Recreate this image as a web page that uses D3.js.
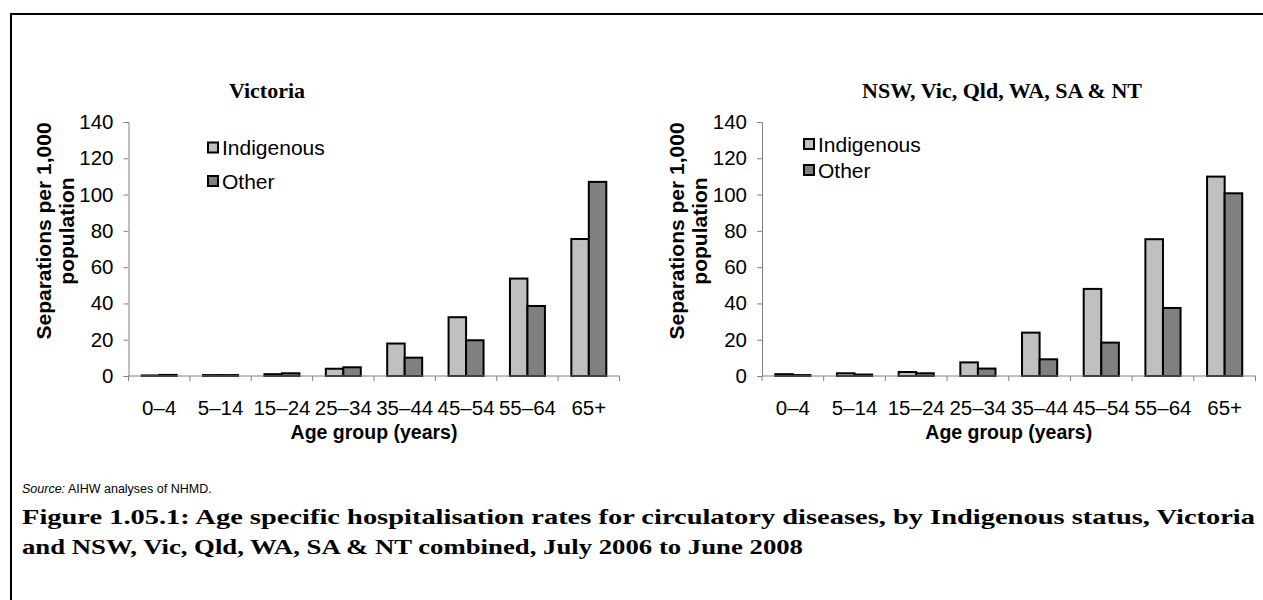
<!DOCTYPE html>
<html>
<head>
<meta charset="utf-8">
<script src="https://cdn.jsdelivr.net/npm/d3@7"></script>
<style>
body { margin: 0; background: #fff; }
svg { display: block; }
</style>
</head>
<body>
<div id="chart"></div>
<script>
// age groups on the x axis
var ageGroups = ["0–4", "5–14", "15–24", "25–34", "35–44", "45–54", "55–64", "65+"];
var seriesNames = ["Indigenous", "Other"];
var yTicks = [0, 20, 40, 60, 80, 100, 120, 140];

// Victoria
var vicIndigenous = [0.3, 0.5, 1.0, 4.0, 17.9, 32.4, 53.7, 75.5];
var vicOther      = [0.6, 0.5, 1.5, 4.8, 10.1, 19.7, 38.6, 107.0];

// NSW, Vic, Qld, WA, SA & NT
var allIndigenous = [1.0, 1.5, 2.2, 7.5, 23.9, 48.0, 75.4, 109.9];
var allOther      = [0.5, 0.8, 1.5, 4.1, 9.2, 18.4, 37.5, 100.7];

var colors = {"Indigenous": "#c0c0c0", "Other": "#808080"};

var width = 1263, height = 600;
var sans = "Arial, 'Liberation Sans', sans-serif";

var svg = d3.select("#chart").append("svg")
	.attr("width", width)
	.attr("height", height);

// frame (only left and top edges are in the picture)
svg.append("path")
	.attr("d", "M11,600 V14 H1263")
	.attr("fill", "none")
	.attr("stroke", "#000")
	.attr("stroke-width", 2);

var panels = [
	{title: "Victoria", titleX: 267, x0: 128.5, x1: 619.5, ind: vicIndigenous, oth: vicOther,
	 legendX: 207, legendY: [147.5, 181]},
	{title: "NSW, Vic, Qld, WA, SA & NT", titleX: 1002, x0: 762, x1: 1255.5, ind: allIndigenous, oth: allOther,
	 legendX: 803, legendY: [144, 170]}
];

var yTop = 122, yBottom = 376;

function drawPanel(p) {
	var g = svg.append("g");

	var x = d3.scaleBand()
		.domain(ageGroups)
		.range([p.x0, p.x1])
		.paddingInner(0.43)
		.paddingOuter(0.215);

	var xs = d3.scaleBand()
		.domain(seriesNames)
		.range([0, x.bandwidth()]);

	var y = d3.scaleLinear()
		.domain([0, 140])
		.range([yBottom, yTop]);

	g.append("text")
		.attr("x", p.titleX)
		.attr("y", 98)
		.attr("text-anchor", "middle")
		.attr("font-family", "'Liberation Serif', serif")
		.attr("font-weight", "bold")
		.attr("font-size", 22)
		.text(p.title);

	// bars
	var rows = ageGroups.map(function(a, i) {
		return {age: a, values: [{k: "Indigenous", v: p.ind[i]}, {k: "Other", v: p.oth[i]}]};
	});

	var grp = g.selectAll(".grp")
		.data(rows)
		.enter()
		.append("g")
		.attr("transform", function(d) { return "translate(" + x(d.age) + ",0)"; });

	grp.selectAll("rect")
		.data(function(d) { return d.values; })
		.enter()
		.append("rect")
		.attr("x", function(d) { return xs(d.k); })
		.attr("y", function(d) { return y(d.v); })
		.attr("width", xs.bandwidth())
		.attr("height", function(d) { return yBottom - y(d.v); })
		.attr("fill", function(d) { return colors[d.k]; })
		.attr("stroke", "#000")
		.attr("stroke-width", 2);

	// y axis
	var yAxis = g.append("g")
		.attr("transform", "translate(" + p.x0 + ",0)")
		.call(d3.axisLeft(y).tickValues(yTicks).tickSize(5).tickSizeOuter(5).tickPadding(10));
	yAxis.select(".domain").attr("stroke", "#808080");
	yAxis.selectAll(".tick line").attr("stroke", "#808080");
	yAxis.selectAll("text")
		.attr("font-family", sans)
		.attr("font-size", 20.5)
		.attr("fill", "#000");

	// x axis: ticks sit on the category boundaries
	var xAxis = g.append("g")
		.attr("transform", "translate(0," + yBottom + ")");
	xAxis.append("line")
		.attr("x1", p.x0).attr("x2", p.x1)
		.attr("stroke", "#808080");
	var step = (p.x1 - p.x0) / ageGroups.length;
	xAxis.selectAll(".xt")
		.data(d3.range(ageGroups.length + 1))
		.enter()
		.append("line")
		.attr("x1", function(i) { return p.x0 + i * step; })
		.attr("x2", function(i) { return p.x0 + i * step; })
		.attr("y1", 0).attr("y2", 5)
		.attr("stroke", "#808080");
	xAxis.selectAll(".xl")
		.data(ageGroups)
		.enter()
		.append("text")
		.attr("x", function(d) { return x(d) + x.bandwidth() / 2; })
		.attr("y", 39)
		.attr("text-anchor", "middle")
		.attr("font-family", sans)
		.attr("font-size", 20.5)
		.text(function(d) { return d; });

	g.append("text")
		.attr("x", (p.x0 + p.x1) / 2)
		.attr("y", 439)
		.attr("text-anchor", "middle")
		.attr("font-family", sans)
		.attr("font-weight", "bold")
		.attr("font-size", 19.5)
		.text("Age group (years)");

	// y axis title, two lines
	var yt = g.append("text")
		.attr("transform", "translate(" + (p.x0 - 78) + ",231) rotate(-90)")
		.attr("text-anchor", "middle")
		.attr("font-family", sans)
		.attr("font-weight", "bold")
		.attr("font-size", 21);
	yt.append("tspan").attr("x", 0).attr("dy", 0).text("Separations per 1,000");
	yt.append("tspan").attr("x", 0).attr("dy", 23).text("population");

	// legend
	var lg = g.selectAll(".lg")
		.data(seriesNames)
		.enter()
		.append("g")
		.attr("transform", function(d, i) { return "translate(" + p.legendX + "," + p.legendY[i] + ")"; });
	lg.append("rect")
		.attr("x", 1).attr("y", -5)
		.attr("width", 10).attr("height", 10)
		.attr("fill", function(d) { return colors[d]; })
		.attr("stroke", "#000")
		.attr("stroke-width", 2);
	lg.append("text")
		.attr("x", 15)
		.attr("y", 7.5)
		.attr("font-family", sans)
		.attr("font-size", 21)
		.text(function(d) { return d; });
}

panels.forEach(drawPanel);

// source note
var src = svg.append("text")
	.attr("x", 22)
	.attr("y", 493)
	.attr("font-family", sans)
	.attr("font-size", 12.5);
src.append("tspan").attr("font-style", "italic").text("Source:");
src.append("tspan").text(" AIHW analyses of NHMD.");

// figure caption
var capLines = [
	"Figure 1.05.1: Age specific hospitalisation rates for circulatory diseases, by Indigenous status, Victoria",
	"and NSW, Vic, Qld, WA, SA & NT combined, July 2006 to June 2008"
];
var capLen = [1233, 781];
svg.selectAll(".cap")
	.data(capLines)
	.enter()
	.append("text")
	.attr("x", 22)
	.attr("y", function(d, i) { return 524 + i * 30; })
	.attr("font-family", "'Liberation Serif', serif")
	.attr("font-weight", "bold")
	.attr("font-size", 21)
	.attr("textLength", function(d, i) { return capLen[i]; })
	.attr("lengthAdjust", "spacingAndGlyphs")
	.text(function(d) { return d; });
</script>
</body>
</html>
